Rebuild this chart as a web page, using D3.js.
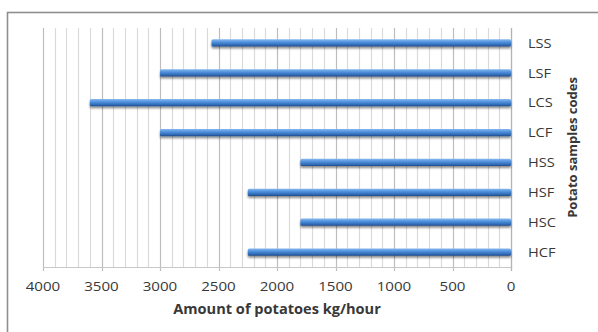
<!DOCTYPE html>
<html>
<head>
<meta charset="utf-8">
<script src="https://cdn.jsdelivr.net/npm/d3@7"></script>
<style>
  html, body { margin: 0; padding: 0; background: #ffffff; }
  svg { display: block; }
  text { font-family: "Open Sans", "Liberation Sans", sans-serif; fill: #383838; }
</style>
</head>
<body>
<svg id="chart" width="598" height="332"></svg>
<script>
// Potato sample codes, listed top to bottom
const categories = ["LSS", "LSF", "LCS", "LCF", "HSS", "HSF", "HSC", "HCF"];
// Amount of potatoes processed, kg/hour
const values = [2560, 3000, 3600, 3000, 1800, 2250, 1800, 2250];
// Axis ticks
const majorTicks = [4000, 3500, 3000, 2500, 2000, 1500, 1000, 500, 0];
const minorTicks = d3.range(0, 4001, 100);
const xTitle = "Amount of potatoes kg/hour";
const yTitle = "Potato samples codes";

const svg = d3.select("#chart");
const W = 598, H = 332;
const plot = { left: 43, right: 511, top: 28, bottom: 267 };

// Chart frame
svg.append("rect")
  .attr("x", 7.5).attr("y", 12.5)
  .attr("width", W).attr("height", H)
  .attr("fill", "#ffffff")
  .attr("stroke", "#8f8f8f")
  .attr("stroke-width", 1.6);

const defs = svg.append("defs");
const grad = defs.append("linearGradient")
  .attr("id", "barFill").attr("x1", 0).attr("y1", 0).attr("x2", 0).attr("y2", 1);
grad.append("stop").attr("offset", "0%").attr("stop-color", "#86b8f0");
grad.append("stop").attr("offset", "40%").attr("stop-color", "#4f90dc");
grad.append("stop").attr("offset", "80%").attr("stop-color", "#2f68b4");
grad.append("stop").attr("offset", "100%").attr("stop-color", "#1f4a86");

const shadow = defs.append("filter").attr("id", "barShadow")
  .attr("x", "-5%").attr("y", "-50%").attr("width", "110%").attr("height", "250%");
shadow.append("feGaussianBlur").attr("in", "SourceAlpha").attr("stdDeviation", 1.1).attr("result", "b");
shadow.append("feOffset").attr("in", "b").attr("dx", 0).attr("dy", 1.5).attr("result", "o");
shadow.append("feComponentTransfer").attr("in", "o").attr("result", "s")
  .append("feFuncA").attr("type", "linear").attr("slope", 0.45);
const merge = shadow.append("feMerge");
merge.append("feMergeNode").attr("in", "s");
merge.append("feMergeNode").attr("in", "SourceGraphic");

// Reversed value axis: 4000 on the left, 0 on the right
const x = d3.scaleLinear().domain([4000, 0]).range([plot.left, plot.right]);
const y = d3.scaleBand().domain(categories).range([plot.top, plot.bottom]).padding(0);
const barH = y.bandwidth() * 0.24;

// Minor gridlines every 100
svg.append("g").selectAll("line")
  .data(minorTicks.filter(d => d % 500 !== 0))
  .join("line")
  .attr("x1", d => Math.round(x(d)) + 0.5).attr("x2", d => Math.round(x(d)) + 0.5)
  .attr("y1", plot.top).attr("y2", plot.bottom)
  .attr("stroke", "#dadada").attr("stroke-width", 1.2);

// Major gridlines every 500, with tick marks below the axis
svg.append("g").selectAll("line")
  .data(majorTicks)
  .join("line")
  .attr("x1", d => Math.round(x(d)) + 0.5).attr("x2", d => Math.round(x(d)) + 0.5)
  .attr("y1", plot.top).attr("y2", plot.bottom + 4)
  .attr("stroke", "#bdbdbd").attr("stroke-width", 1.2);

// Category axis line on the right
svg.append("line")
  .attr("x1", Math.round(x(0)) + 0.5).attr("x2", Math.round(x(0)) + 0.5)
  .attr("y1", plot.top).attr("y2", plot.bottom + 4)
  .attr("stroke", "#b4b4b4").attr("stroke-width", 1.2);

// Value axis line
svg.append("line")
  .attr("x1", plot.left).attr("x2", plot.right)
  .attr("y1", plot.bottom + 0.5).attr("y2", plot.bottom + 0.5)
  .attr("stroke", "#c8c8c8");

// Bars
svg.append("g").selectAll("rect")
  .data(categories.map((c, i) => ({ c, v: values[i] })))
  .join("rect")
  .attr("x", d => x(d.v))
  .attr("y", d => y(d.c) + y.bandwidth() / 2 - barH / 2)
  .attr("width", d => x(0) - x(d.v))
  .attr("height", barH)
  .attr("rx", 1.5)
  .attr("fill", "url(#barFill)")
  .attr("filter", "url(#barShadow)");

// Value tick labels
svg.append("g").selectAll("text")
  .data(majorTicks)
  .join("text")
  .attr("x", d => x(d))
  .attr("y", 286)
  .attr("dy", "0.35em")
  .attr("text-anchor", "middle")
  .attr("font-size", 13.5)
  .attr("transform", d => `translate(${x(d)},0) scale(1.12,1) translate(${-x(d)},0)`)
  .text(d => d);

// Category labels
svg.append("g").selectAll("text")
  .data(categories)
  .join("text")
  .attr("x", 528)
  .attr("y", d => y(d) + y.bandwidth() / 2)
  .attr("dy", "0.35em")
  .attr("font-size", 13.5)
  .attr("transform", d => `translate(528,0) scale(1.08,1) translate(-528,0)`)
  .text(d => d);

// Axis titles
const xMid = (plot.left + plot.right) / 2;
svg.append("text")
  .attr("x", xMid)
  .attr("y", 309)
  .attr("dy", "0.35em")
  .attr("text-anchor", "middle")
  .attr("font-size", 13.5)
  .attr("font-weight", "bold")
  .attr("fill", "#262626")
  .attr("transform", `translate(${xMid},0) scale(1.08,1) translate(${-xMid},0)`)
  .text(xTitle);

svg.append("text")
  .attr("transform", `translate(572,${(plot.top + plot.bottom) / 2}) rotate(-90)`)
  .attr("dy", "0.35em")
  .attr("text-anchor", "middle")
  .attr("font-size", 13)
  .attr("font-weight", "bold")
  .attr("fill", "#262626")
  .text(yTitle);
</script>
</body>
</html>
